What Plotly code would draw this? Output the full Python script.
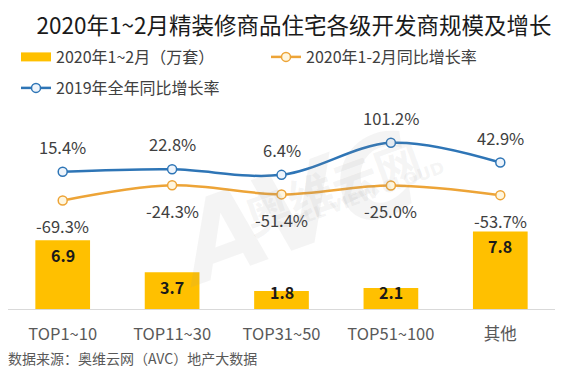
import plotly.graph_objects as go

# ---- data ----
categories = ["TOP1~10", "TOP11~30", "TOP31~50", "TOP51~100", "其他"]
volume_2020 = [6.9, 3.7, 1.8, 2.1, 7.8]             # 2020年1~2月（万套）
growth_2020 = [-69.3, -24.3, -51.4, -25.0, -53.7]   # 2020年1-2月同比增长率 (%)
growth_2019 = [15.4, 22.8, 6.4, 101.2, 42.9]        # 2019年全年同比增长率 (%)

name_bar = "2020年1~2月（万套）"
name_g20 = "2020年1-2月同比增长率"
name_g19 = "2019年全年同比增长率"
title_text = "2020年1~2月精装修商品住宅各级开发商规模及增长"
source_text = "数据来源：奥维云网（AVC）地产大数据"

# ---- style ----
W, H = 588, 372
FONT = "Noto Sans CJK SC, Noto Sans, sans-serif"
GOLD = "#FFC000"
BLUE = "#2E75B6"
ORANGE = "#EDA437"
ML, MR, MT, MB = 8, 33, 110, 63
PW, PH = W - ML - MR, H - MT - MB


def px_x(px):
    return (px - ML) / PW


def px_y(py):
    return (H - MB - py) / PH


fig = go.Figure()

fig.add_trace(go.Bar(
    x=categories, y=volume_2020, name=name_bar, marker=dict(color=GOLD, line=dict(width=0)),
    width=0.5, showlegend=False, yaxis="y", hoverinfo="skip",
))
# legend swatch for bars (wide rectangle as in the reference)
fig.add_trace(go.Scatter(
    x=[None], y=[None], mode="lines", name=name_bar, line=dict(color=GOLD, width=9),
    legend="legend", yaxis="y",
))
fig.add_trace(go.Scatter(
    x=categories, y=growth_2020, name=name_g20, mode="lines+markers", yaxis="y2",
    line=dict(color=ORANGE, width=2.5, shape="spline", smoothing=1),
    marker=dict(size=9, color="#FFF6DE", line=dict(color=ORANGE, width=1.5)),
    legend="legend2",
))
fig.add_trace(go.Scatter(
    x=categories, y=growth_2019, name=name_g19, mode="lines+markers", yaxis="y2",
    line=dict(color=BLUE, width=2.5, shape="spline", smoothing=1),
    marker=dict(size=9, color="#EEF4FB", line=dict(color=BLUE, width=1.5)),
    legend="legend3",
))

annotations = []
# faint watermark (drawn first, beneath the other texts)
wm = "rgba(150,150,150,0.10)"
annotations.append(dict(
    x=px_x(152), y=px_y(207), xref="paper", yref="paper", text="<b><i>AVC</i></b>",
    showarrow=False, textangle=-20, font=dict(size=110, color=wm, family="DejaVu Sans"),
))
annotations.append(dict(
    x=px_x(332), y=px_y(118), xref="paper", yref="paper", text="<b>奥维云网</b>",
    showarrow=False, textangle=-20, font=dict(size=46, color=wm, family=FONT),
))
annotations.append(dict(
    x=px_x(368), y=px_y(152), xref="paper", yref="paper", text="<b>ALL VIEW CLOUD</b>",
    showarrow=False, textangle=-20, font=dict(size=17, color=wm, family="DejaVu Sans"),
))
# bar value labels
for c, v in zip(categories, volume_2020):
    annotations.append(dict(
        x=c, y=max(v - 1.5, 1.75), xref="x", yref="y", text=f"<b>{v:.1f}</b>",
        showarrow=False, yanchor="middle", font=dict(size=16, color="#1a1a1a", family=FONT),
    ))
# growth labels
for c, v in zip(categories, growth_2019):
    annotations.append(dict(
        x=c, y=v, xref="x", yref="y2", text=f"{v:.1f}%", showarrow=False,
        yanchor="middle", yshift=25, font=dict(size=16.5, color="#404040", family=FONT),
    ))
for c, v in zip(categories, growth_2020):
    annotations.append(dict(
        x=c, y=v, xref="x", yref="y2", text=f"{v:.1f}%", showarrow=False,
        yanchor="middle", yshift=-26, font=dict(size=16.5, color="#404040", family=FONT),
    ))
# source
annotations.append(dict(
    x=px_x(6), y=px_y(359), xref="paper", yref="paper", text=source_text, showarrow=False,
    xanchor="left", yanchor="middle", font=dict(size=14, color="#595959", family=FONT),
))

leg_common = dict(
    orientation="h", xref="container", yref="container", xanchor="left", yanchor="middle",
    font=dict(size=16, color="#404040", family=FONT), bgcolor="rgba(0,0,0,0)",
)

fig.update_layout(
    width=W, height=H,
    margin=dict(l=ML, r=MR, t=MT, b=MB, pad=0),
    paper_bgcolor="white", plot_bgcolor="white",
    font=dict(family=FONT),
    title=dict(
        text=title_text, x=0.5, xref="container", xanchor="center",
        y=1 - 26 / H, yref="container", yanchor="middle",
        font=dict(size=22.5, color="#1a1a1a", family=FONT),
    ),
    xaxis=dict(
        type="category", showline=True, linecolor="#d9d9d9", linewidth=1, ticks="",
        showgrid=False, zeroline=False, ticklabelstandoff=10,
        tickfont=dict(size=16.5, color="#595959", family=FONT),
    ),
    yaxis=dict(range=[0, PH / 10.1], visible=False, showgrid=False, zeroline=False),
    yaxis2=dict(
        range=[-(H - MB - 175) / 0.343, (175 - MT) / 0.343], overlaying="y", side="right",
        visible=False, showgrid=False, zeroline=False,
    ),
    legend=dict(x=16 / W, y=1 - 57 / H, **leg_common),
    legend2=dict(x=266 / W, y=1 - 57 / H, **leg_common),
    legend3=dict(x=16 / W, y=1 - 88 / H, **leg_common),
    annotations=annotations,
    showlegend=True,
)

fig.write_html(
    "out.html",
    config={"displayModeBar": False},
    post_script="document.body.style.margin='0';document.body.style.padding='0';",
)
